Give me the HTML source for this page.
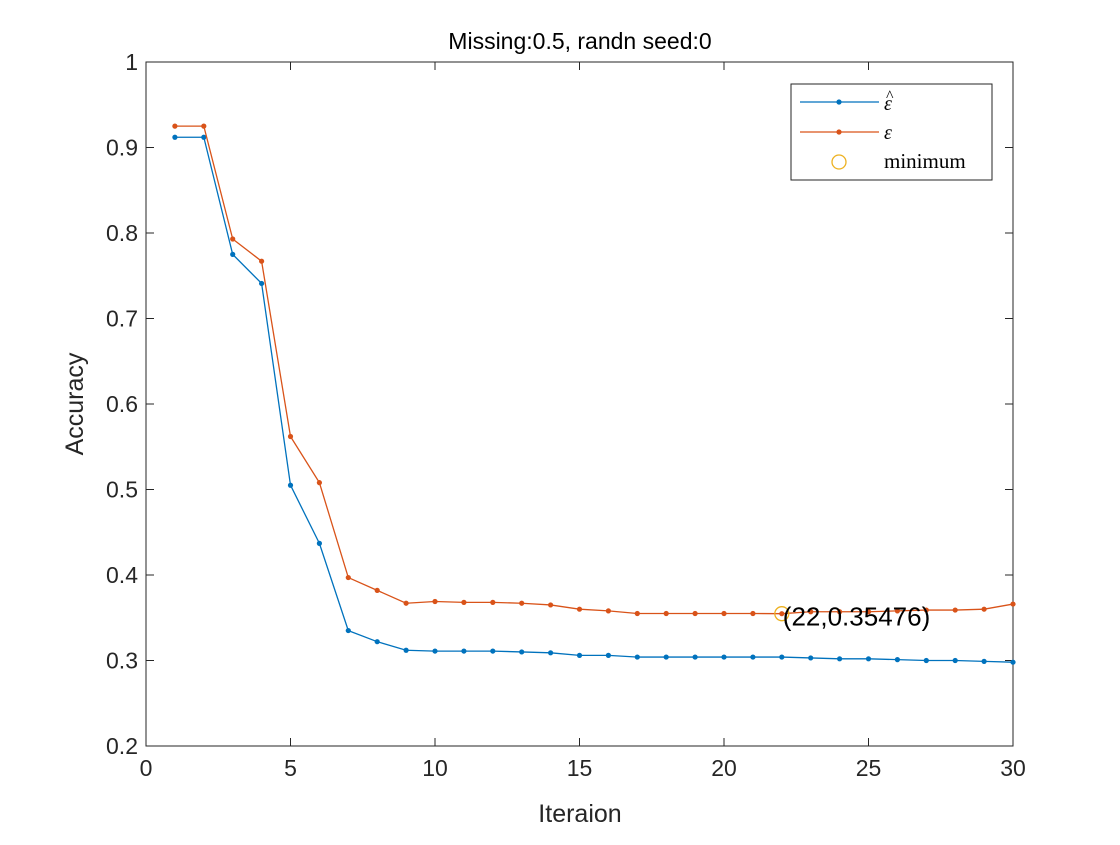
<!DOCTYPE html>
<html><head><meta charset="utf-8"><style>
body{margin:0;background:#fff;}
</style></head><body>
<svg id="chart" width="1120" height="840" xmlns="http://www.w3.org/2000/svg" font-family="Liberation Sans, sans-serif">
<rect width="1120" height="840" fill="#fff"/>
<g id="plot"></g>
</svg>
<script>
const iterations=[1,2,3,4,5,6,7,8,9,10,11,12,13,14,15,16,17,18,19,20,21,22,23,24,25,26,27,28,29,30];
const epsHat=[0.912,0.912,0.775,0.741,0.505,0.437,0.335,0.322,0.312,0.311,0.311,0.311,0.310,0.309,0.306,0.306,0.304,0.304,0.304,0.304,0.304,0.304,0.303,0.302,0.302,0.301,0.300,0.300,0.299,0.298];
const eps=[0.925,0.925,0.793,0.767,0.562,0.508,0.397,0.382,0.367,0.369,0.368,0.368,0.367,0.365,0.360,0.358,0.355,0.355,0.355,0.355,0.355,0.35476,0.357,0.357,0.357,0.358,0.359,0.359,0.360,0.366];
const xTicks=[0,5,10,15,20,25,30];
const yTicks=[0.2,0.3,0.4,0.5,0.6,0.7,0.8,0.9,1];
const yTickLabels=["0.2","0.3","0.4","0.5","0.6","0.7","0.8","0.9","1"];
const minPoint=[22,0.35476];

const L=146,R=1013,T=62,B=746;
const sx=v=>L+(v-0)/30*(R-L);
const sy=v=>B-(v-0.2)/0.8*(B-T);
const NS="http://www.w3.org/2000/svg";
const g=document.getElementById('plot');
function mk(tag,attrs,parent){const e=document.createElementNS(NS,tag);for(const k in attrs)e.setAttribute(k,attrs[k]);(parent||g).appendChild(e);return e;}

const frame=mk('rect',{x:L,y:T,width:R-L,height:B-T,fill:'none',stroke:'#262626','stroke-width':1});



xTicks.forEach(t=>{
  const x=sx(t);
  mk('line',{x1:x,x2:x,y1:B,y2:B-8,stroke:'#262626'});
  mk('line',{x1:x,x2:x,y1:T,y2:T+8,stroke:'#262626'});
  const tx=mk('text',{x:x,y:B+30,'text-anchor':'middle','font-size':23,fill:'#262626'});
  tx.textContent=t;
  
  
});
yTicks.forEach((t,i)=>{
  const y=sy(t);
  mk('line',{x1:L,x2:L+8,y1:y,y2:y,stroke:'#262626'});
  mk('line',{x1:R,x2:R-8,y1:y,y2:y,stroke:'#262626'});
  const tx=mk('text',{x:L-8,y:y+8,'text-anchor':'end','font-size':23,fill:'#262626'});
  tx.textContent=yTickLabels[i];
  
  
});

function series(vals,color,name){
  const pts=iterations.map((x,i)=>sx(x)+','+sy(vals[i])).join(' ');
  const pl=mk('polyline',{points:pts,fill:'none',stroke:color,'stroke-width':1.3});
  
  
  iterations.forEach((x,i)=>{
    const c=mk('circle',{cx:sx(x),cy:sy(vals[i]),r:2.6,fill:color});
    
    
  });
}
series(epsHat,'#0072BD','eps-hat');
series(eps,'#D95319','eps');

const mc=mk('circle',{cx:sx(minPoint[0]),cy:sy(minPoint[1]),r:7,fill:'none',stroke:'#EDB120','stroke-width':1.3});


const ml=mk('text',{x:sx(minPoint[0])+1,y:sy(minPoint[1])+12,'font-size':26,fill:'#000'});
ml.textContent='('+minPoint[0]+','+minPoint[1]+')';



const title=mk('text',{x:580,y:49,'text-anchor':'middle','font-size':23,fill:'#000'});
title.textContent='Missing:0.5,  randn seed:0';


const xl=mk('text',{x:580,y:822,'text-anchor':'middle','font-size':25,fill:'#262626'});
xl.textContent='Iteraion';


const yl=mk('text',{x:0,y:0,'text-anchor':'middle','font-size':25,fill:'#262626',transform:'translate(83,404) rotate(-90)'});
yl.textContent='Accuracy';



// legend
const lg=mk('g',{});


mk('rect',{x:791,y:84,width:201,height:96,fill:'#fff',stroke:'#262626','stroke-width':1},lg);
mk('line',{x1:800,x2:879,y1:102,y2:102,stroke:'#0072BD','stroke-width':1.3},lg);
mk('circle',{cx:839,cy:102,r:2.6,fill:'#0072BD'},lg);
const t1=mk('text',{x:884,y:110,'font-size':20,'font-style':'italic','font-family':'Liberation Serif, serif',fill:'#000'},lg);
t1.textContent='ε';
const t1h=mk('text',{x:886,y:101,'font-size':16,'font-family':'Liberation Serif, serif',fill:'#000'},lg);
t1h.textContent='^';
mk('line',{x1:800,x2:879,y1:132,y2:132,stroke:'#D95319','stroke-width':1.3},lg);
mk('circle',{cx:839,cy:132,r:2.6,fill:'#D95319'},lg);
const t2=mk('text',{x:884,y:139,'font-size':20,'font-style':'italic','font-family':'Liberation Serif, serif',fill:'#000'},lg);
t2.textContent='ε';
mk('circle',{cx:839,cy:162,r:7,fill:'none',stroke:'#EDB120','stroke-width':1.3},lg);
const t3=mk('text',{x:884,y:168,'font-size':21,'font-family':'Liberation Serif, serif',fill:'#000'},lg);
t3.textContent='minimum';
</script>
</body></html>
